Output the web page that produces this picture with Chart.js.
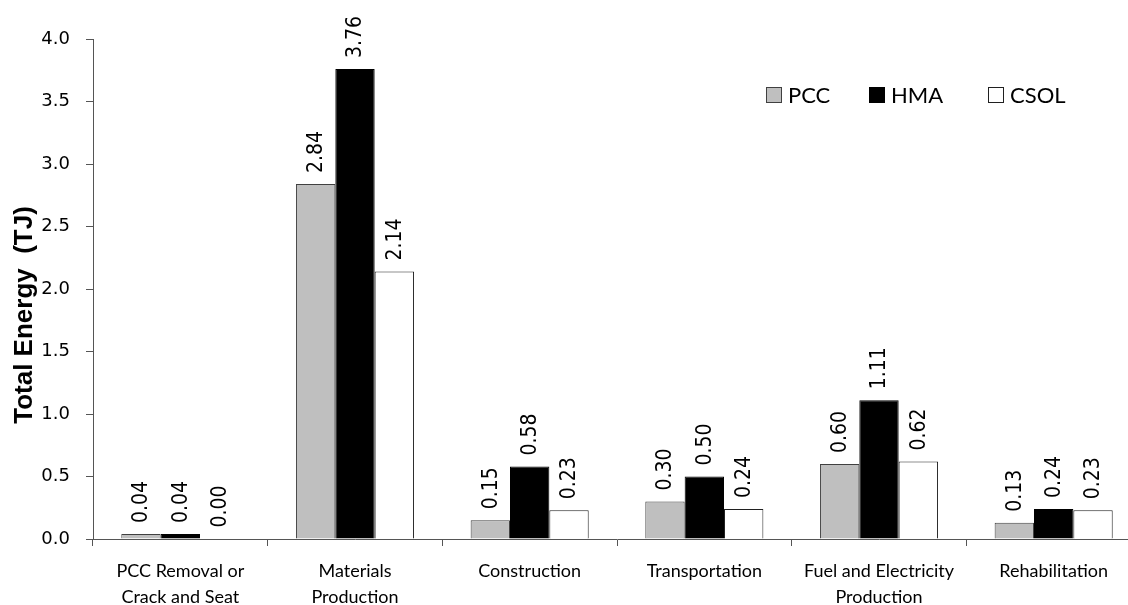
<!DOCTYPE html>
<html>
<head>
<meta charset="utf-8">
<script src="https://cdn.jsdelivr.net/npm/chart.js@4/dist/chart.umd.min.js"></script>
<style>
html,body{margin:0;padding:0;background:#fff;overflow:hidden;}
#wrap{width:1128px;height:605px;overflow:hidden;}
canvas{display:block;}
</style>
</head>
<body>
<div id="wrap"><canvas id="c" width="1150" height="605"></canvas></div>
<script>
const categories = [
  ["PCC Removal or", "Crack and Seat"],
  ["Materials", "Production"],
  "Construction",
  "Transportation",
  ["Fuel and Electricity", "Production"],
  "Rehabilitation"
];
const seriesNames = ["PCC", "HMA", "CSOL"];
const pccValues  = [0.04, 2.84, 0.15, 0.30, 0.60, 0.13];
const hmaValues  = [0.04, 3.76, 0.58, 0.50, 1.11, 0.24];
const csolValues = [0.004, 2.14, 0.23, 0.24, 0.62, 0.23];
const yTicks = [0, 0.5, 1.0, 1.5, 2.0, 2.5, 3.0, 3.5, 4.0];
const yTitle = "Total Energy  (TJ)";

const valueLabels = {
  id: 'valueLabels',
  afterDatasetsDraw(chart) {
    const ctx = chart.ctx;
    ctx.save();
    ctx.font = '21px "DejaVu Sans Condensed", "DejaVu Sans"';
    ctx.fillStyle = '#000';
    ctx.textAlign = 'left';
    ctx.textBaseline = 'middle';
    chart.data.datasets.forEach((ds, di) => {
      const meta = chart.getDatasetMeta(di);
      meta.data.forEach((el, i) => {
        const v = ds.data[i];
        ctx.save();
        ctx.translate(el.x + 1, el.y - 11);
        ctx.rotate(-Math.PI / 2);
        ctx.fillText(v.toFixed(2), 0, 0);
        ctx.restore();
      });
    });
    ctx.restore();
  }
};

const axisTitle = {
  id: 'axisTitle',
  afterDraw(chart) {
    const ctx = chart.ctx;
    ctx.save();
    ctx.font = 'bold 26px "Liberation Sans"';
    ctx.fillStyle = '#000';
    ctx.textAlign = 'center';
    ctx.textBaseline = 'middle';
    ctx.translate(25, 315);
    ctx.rotate(-Math.PI / 2);
    ctx.fillText(yTitle, 0, 0);
    ctx.restore();
  }
};

const customLegend = {
  id: 'customLegend',
  afterDraw(chart) {
    const ctx = chart.ctx;
    const boxX = [766, 869, 988];
    const y = 95;
    ctx.save();
    ctx.font = '22px Lato';
    ctx.textBaseline = 'middle';
    ctx.textAlign = 'left';
    chart.data.datasets.forEach((ds, i) => {
      ctx.fillStyle = ds.backgroundColor;
      ctx.fillRect(boxX[i] + 0.5, y - 7.5, 15, 15);
      ctx.strokeStyle = ds.borderColor;
      ctx.lineWidth = 1;
      ctx.strokeRect(boxX[i] + 0.5, y - 7.5, 15, 15);
      ctx.fillStyle = '#000';
      ctx.fillText(ds.label, boxX[i] + 22, y + 1);
    });
    ctx.restore();
  }
};

new Chart(document.getElementById('c'), {
  type: 'bar',
  data: {
    labels: categories,
    datasets: [
      { label: seriesNames[0], data: pccValues, backgroundColor: '#bfbfbf', borderColor: '#404040', borderWidth: 1 },
      { label: seriesNames[1], data: hmaValues, backgroundColor: '#000000', borderColor: '#000000', borderWidth: 1 },
      { label: seriesNames[2], data: csolValues, backgroundColor: '#ffffff', borderColor: '#202020', borderWidth: 1 }
    ]
  },
  options: {
    responsive: false,
    animation: false,
    devicePixelRatio: 1,
    layout: { padding: { top: 39, right: 9, bottom: 0, left: 0 } },
    datasets: { bar: { categoryPercentage: 0.676, barPercentage: 1.0 } },
    plugins: {
      legend: { display: false },
      tooltip: { enabled: false }
    },
    scales: {
      x: {
        offset: true,
        grid: { offset: true, drawOnChartArea: false, drawTicks: true, tickLength: 7, color: '#555', tickColor: '#555' },
        border: { display: true, color: '#555', width: 1 },
        ticks: {
          color: '#000',
          font: { family: 'Lato', size: 18, lineHeight: '26px' },
          padding: 12,
          maxRotation: 0,
          autoSkip: false
        },
        afterFit(scale) { scale.height = 66; }
      },
      y: {
        min: 0, max: 4,
        afterBuildTicks(scale) { scale.ticks = yTicks.map(v => ({ value: v })); },
        grid: { drawOnChartArea: false, drawTicks: true, tickLength: 7, color: '#555', tickColor: '#555' },
        border: { display: true, color: '#555', width: 1 },
        ticks: {
          color: '#000',
          font: { family: 'DejaVu Sans', size: 18 },
          padding: 16,
          callback: (v) => Number(v).toFixed(1)
        },
        afterFit(scale) { scale.width = 93; }
      }
    }
  },
  plugins: [valueLabels, axisTitle, customLegend]
});
</script>
</body>
</html>
